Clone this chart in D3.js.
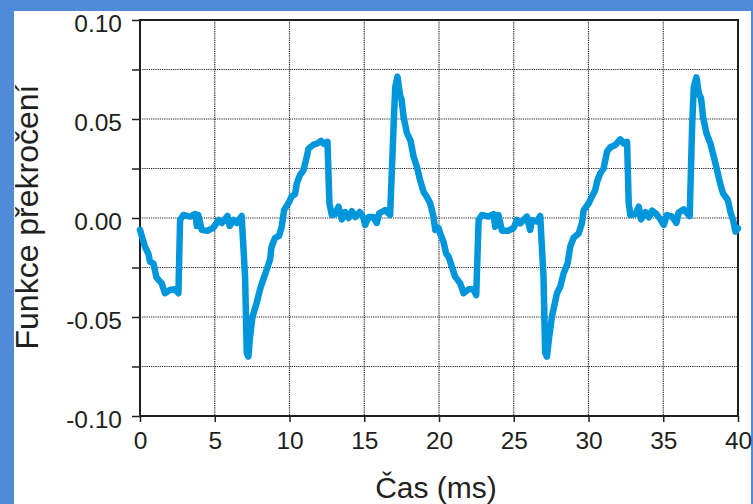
<!DOCTYPE html>
<html>
<head>
<meta charset="utf-8">
<script src="https://cdn.jsdelivr.net/npm/d3@7"></script>
<style>
  html, body { margin: 0; padding: 0; background: #4f8bd6; }
  svg { display: block; }
  .tick text { font-family: "Liberation Sans", Arial, sans-serif; }
</style>
</head>
<body>
<div id="chart"></div>
<script>
// time (ms) and crossing-function value
var time = [0, 0.33, 0.56, 0.67, 0.9, 1.1, 1.45, 1.67, 2.0, 2.34, 2.57, 2.68, 2.9, 3.35, 3.7, 3.8, 3.9, 4.13, 4.5, 4.9,
    5.25, 5.47, 5.85, 6.0, 6.25, 6.47, 6.8, 7.03, 7.14, 7.25, 7.36, 7.52, 7.8, 8.03, 8.25, 8.48, 8.7, 8.8, 9.04, 9.3,
    9.48, 9.64, 9.93, 10.15, 10.37, 10.49, 10.7, 10.93, 11.16, 11.27, 11.6, 11.83, 12.1, 12.27, 12.54, 12.67, 12.83, 13.05, 13.28, 13.5,
    13.72, 13.95, 14.17, 14.4, 14.7, 14.95, 15.06, 15.3, 15.6, 15.84, 16.0, 16.4, 16.73, 16.96, 17.07, 17.22, 17.4, 17.5, 17.63, 17.85,
    18.1, 18.3, 18.5, 18.74, 18.96, 19.2, 19.41, 19.63, 19.75, 19.97, 20.08, 20.3, 20.48, 20.64, 20.86, 21.08, 21.42, 21.64, 21.98, 22.31,
    22.49, 22.65, 22.87, 23.31, 23.65, 23.76, 23.98, 24.21, 24.65, 24.99, 25.21, 25.43, 25.88, 26.1, 26.21, 26.55, 26.77, 26.99, 27.1, 27.22,
    27.37, 27.55, 27.89, 28.11, 28.33, 28.6, 28.78, 29.0, 29.34, 29.56, 29.68, 30.01, 30.23, 30.45, 30.57, 30.79, 31.01, 31.24, 31.46, 31.8,
    32.13, 32.35, 32.58, 32.69, 32.8, 33.14, 33.36, 33.52, 33.81, 34.03, 34.25, 34.54, 34.81, 35.03, 35.25, 35.59, 35.88, 36.03, 36.37, 36.77,
    36.93, 37.04, 37.22, 37.38, 37.53, 37.66, 37.89, 38.15, 38.38, 38.6, 38.78, 39.0, 39.32, 39.49, 39.67, 39.83, 40.0];
var value = [-0.006, -0.0145, -0.018, -0.022, -0.023, -0.03, -0.033, -0.038, -0.0364, -0.036, -0.038, -0.001, 0.0015, 0.0007, 0.002, -0.004, 0.0015, -0.006, -0.0065, -0.005,
    -0.001, -0.0025, 0.001, -0.004, -0.001, -0.0025, 0.001, -0.03, -0.068, -0.07, -0.06, -0.05, -0.043, -0.036, -0.031, -0.026, -0.021, -0.0145, -0.01, -0.009,
    -0.0044, 0.004, 0.0074, 0.011, 0.012, 0.0175, 0.0217, 0.024, 0.031, 0.035, 0.037, 0.0375, 0.039, 0.0375, 0.0385, 0.0074, 0.0015, 0.002, 0.0057, -0.0007,
    0.003, 0, 0.0035, 0.0005, 0.003, 0, -0.0035, 0.0005, 0.0005, -0.0025, 0.0024, 0.004, 0.0015, 0.046, 0.066, 0.0714, 0.062, 0.0596, 0.051, 0.043,
    0.039, 0.031, 0.0264, 0.019, 0.0133, 0.0105, 0.0074, 0.0007, -0.006, -0.005, -0.0078, -0.012, -0.018, -0.0195, -0.0246, -0.0296, -0.033, -0.038, -0.036, -0.036,
    -0.039, -0.001, 0.0015, 0.0007, 0.002, -0.0044, 0.0015, -0.0064, -0.0064, -0.005, -0.001, -0.0027, 0.0007, -0.006, -0.001, -0.0018, 0.001, -0.0296, -0.068, -0.07,
    -0.06, -0.05, -0.038, -0.0347, -0.028, -0.023, -0.0145, -0.01, -0.0078, -0.0027, 0.004, 0.0074, 0.0108, 0.0141, 0.0183, 0.0226, 0.025, 0.0335, 0.0357, 0.0369,
    0.0397, 0.0377, 0.0385, 0.0074, 0.0015, 0.002, 0.0057, -0.0007, 0.003, 0.0003, 0.0037, 0.002, -0.0007, -0.0035, 0.0015, 0.0007, -0.0024, 0.0027, 0.0044, 0.001,
    0.0461, 0.066, 0.071, 0.063, 0.0604, 0.051, 0.0428, 0.0377, 0.031, 0.0242, 0.0183, 0.0124, 0.0091, 0.0032, -0.001, -0.0069, -0.0052];

var xTicks = [0, 5, 10, 15, 20, 25, 30, 35, 40];
var yTicks = [-0.10, -0.075, -0.05, -0.025, 0, 0.025, 0.05, 0.075, 0.10];
var yLabelTicks = [-0.10, -0.05, 0, 0.05, 0.10];

var svgWidth = 753;
var svgHeight = 504;

var margin = { top: 20, right: 15, bottom: 88, left: 140 };
var width = 738 - margin.left;
var height = 416 - margin.top;

var svg = d3.select("#chart")
    .append("svg")
    .attr("width", svgWidth)
    .attr("height", svgHeight);

// white panel inside the blue frame
svg.append("rect")
    .attr("x", 14)
    .attr("y", 11)
    .attr("width", 751 - 14)
    .attr("height", svgHeight - 11)
    .attr("fill", "white");

var chartGroup = svg.append("g")
    .attr("transform", `translate(${margin.left}, ${margin.top})`);

var xScale = d3.scaleLinear().domain([0, 40]).range([0, width]);
var yScale = d3.scaleLinear().domain([-0.1, 0.1]).range([height, 0]);

// dotted grid
chartGroup.selectAll(".vgrid")
    .data(xTicks.slice(1, -1))
    .enter()
    .append("line")
    .attr("x1", d => xScale(d)).attr("x2", d => xScale(d))
    .attr("y1", 0).attr("y2", height)
    .attr("stroke", "#222")
    .attr("stroke-width", 1.2)
    .attr("stroke-dasharray", "1.2,1");

chartGroup.selectAll(".hgrid")
    .data(yTicks.slice(1, -1))
    .enter()
    .append("line")
    .attr("x1", 0).attr("x2", width)
    .attr("y1", d => yScale(d)).attr("y2", d => yScale(d))
    .attr("stroke", "#222")
    .attr("stroke-width", 1.2)
    .attr("stroke-dasharray", "1.2,1");

// axes
var bottomAxis = d3.axisBottom(xScale)
    .tickValues(xTicks)
    .tickSize(6)
    .tickPadding(6)
    .tickFormat(d3.format("d"));

var leftAxis = d3.axisLeft(yScale)
    .tickValues(yTicks)
    .tickSize(8)
    .tickPadding(10)
    .tickFormat(d => yLabelTicks.some(v => Math.abs(v - d) < 1e-9) ? d3.format(".2f")(d).replace("−", "-") : "");

var xAxisG = chartGroup.append("g")
    .attr("transform", `translate(0, ${height})`)
    .call(bottomAxis);

var yAxisG = chartGroup.append("g")
    .call(leftAxis);

[xAxisG, yAxisG].forEach(function (g) {
    g.select(".domain").remove();
    g.selectAll(".tick line").attr("stroke", "#231f20").attr("stroke-width", 1.5);
    g.selectAll(".tick text")
        .attr("fill", "#231f20")
        .style("font-size", "24.5px");
});
yAxisG.selectAll(".tick text").attr("dy", "0.45em");
xAxisG.selectAll(".tick text").attr("dy", "0.85em");

// plot frame
chartGroup.append("rect")
    .attr("x", 0).attr("y", 0)
    .attr("width", width).attr("height", height)
    .attr("fill", "none")
    .attr("stroke", "#231f20")
    .attr("stroke-width", 2);

// the curve
var line = d3.line()
    .x((d, i) => xScale(time[i]))
    .y(d => yScale(d));

chartGroup.append("path")
    .datum(value)
    .attr("d", line)
    .attr("fill", "none")
    .attr("stroke", "#0096dc")
    .attr("stroke-width", 6.5)
    .attr("stroke-linejoin", "round")
    .attr("stroke-linecap", "round");

// axis titles
svg.append("text")
    .attr("x", 436)
    .attr("y", 498)
    .attr("text-anchor", "middle")
    .style("font-family", "Liberation Sans, Arial, sans-serif")
    .style("font-size", "30px")
    .attr("fill", "#231f20")
    .text("Čas (ms)");

svg.append("text")
    .attr("transform", "translate(38, 217) rotate(-90)")
    .attr("text-anchor", "middle")
    .style("font-family", "Liberation Sans, Arial, sans-serif")
    .style("font-size", "32px")
    .attr("fill", "#231f20")
    .text("Funkce překročení");
</script>
</body>
</html>
